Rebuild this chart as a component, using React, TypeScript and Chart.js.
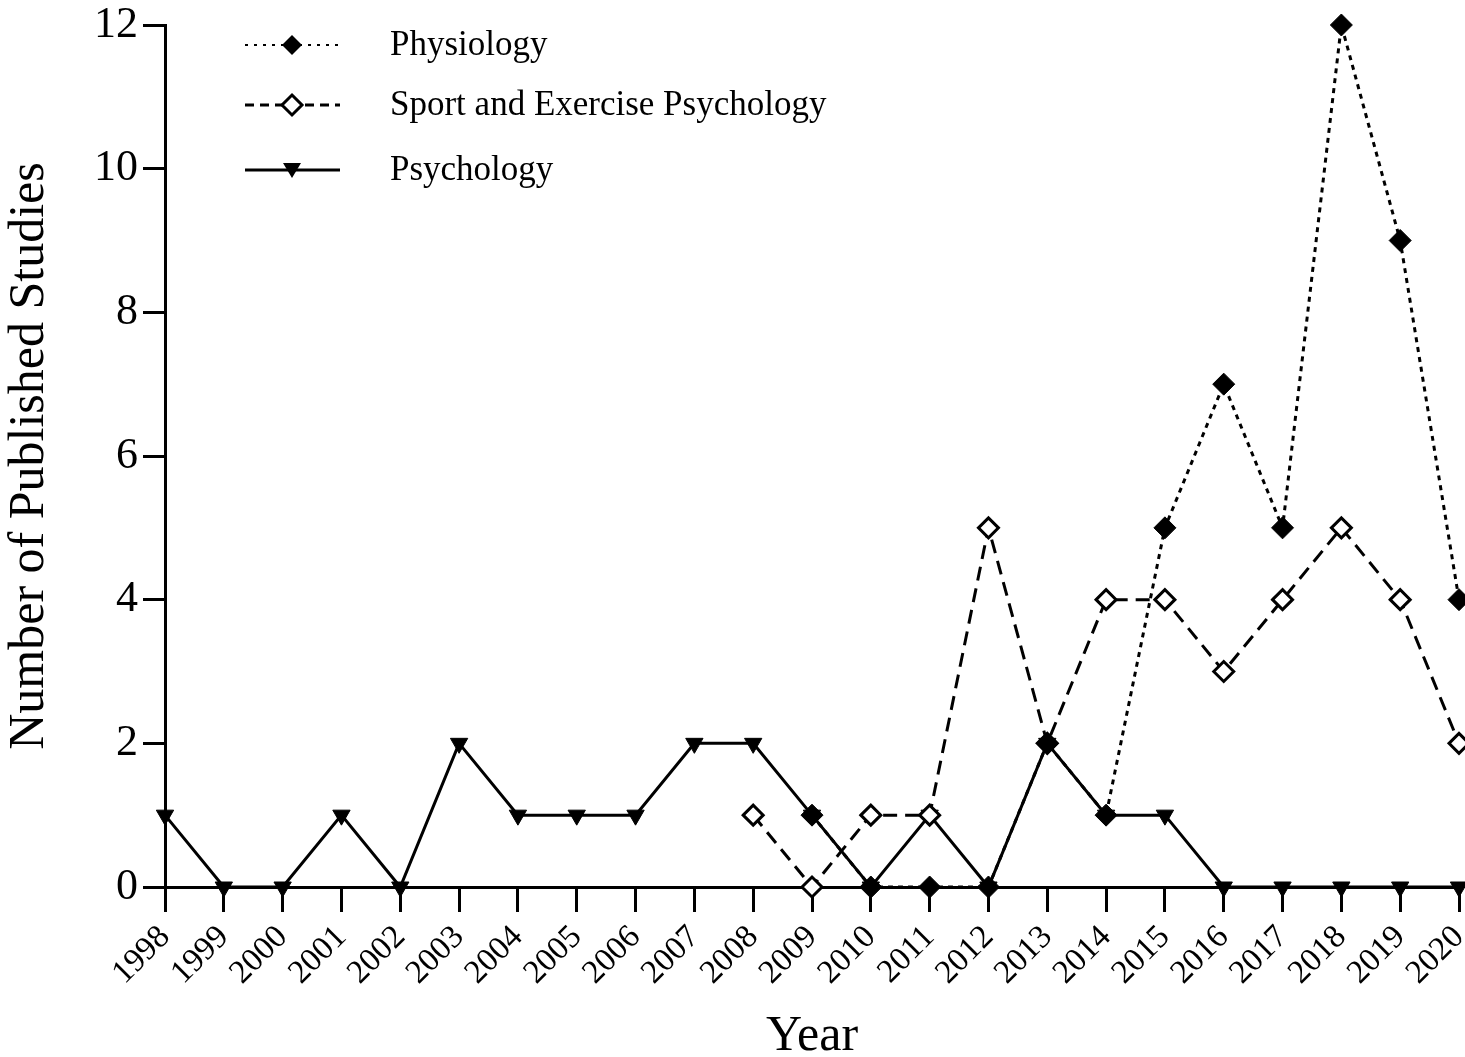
import React, { useEffect, useRef } from "react";
import { Chart, registerables } from "chart.js";

Chart.register(...registerables);

const years = ["1998","1999","2000","2001","2002","2003","2004","2005","2006","2007","2008","2009","2010","2011","2012","2013","2014","2015","2016","2017","2018","2019","2020"];
const physiology = [null,null,null,null,null,null,null,null,null,null,null,1,0,0,0,2,1,5,7,5,12,9,4];
const sportExercise = [null,null,null,null,null,null,null,null,null,null,1,0,1,1,5,2,4,4,3,4,5,4,2];
const psychology = [1,0,0,1,0,2,1,1,1,2,2,1,0,1,0,2,1,1,0,0,0,0,0];
const yTicks = [0, 2, 4, 6, 8, 10, 12];
const legendLabels = ["Physiology", "Sport and Exercise Psychology", "Psychology"];

const FONT = "'Liberation Serif', 'Times New Roman', serif";
const CANVAS_W = 1472;

const legendPlugin = {
  id: "customLegend",
  afterDraw(chart: any) {
    const ctx = chart.ctx;
    const rows = [
      { y: 45, dash: [3, 6], lw: 2, marker: "fdiamond" },
      { y: 105, dash: [9, 6], lw: 3, marker: "odiamond" },
      { y: 170, dash: [], lw: 3, marker: "tri" },
    ];
    ctx.save();
    rows.forEach((r, i) => {
      ctx.strokeStyle = "#000";
      ctx.lineWidth = r.lw;
      ctx.setLineDash(r.dash);
      ctx.beginPath();
      ctx.moveTo(245, r.y);
      ctx.lineTo(340, r.y);
      ctx.stroke();
      ctx.setLineDash([]);
      const cx = 292;
      if (r.marker === "fdiamond" || r.marker === "odiamond") {
        const s = 10;
        ctx.beginPath();
        ctx.moveTo(cx, r.y - s);
        ctx.lineTo(cx + s, r.y);
        ctx.lineTo(cx, r.y + s);
        ctx.lineTo(cx - s, r.y);
        ctx.closePath();
        if (r.marker === "fdiamond") {
          ctx.fillStyle = "#000";
          ctx.fill();
        } else {
          ctx.fillStyle = "#fff";
          ctx.fill();
          ctx.lineWidth = 3;
          ctx.stroke();
        }
      } else {
        ctx.beginPath();
        ctx.moveTo(cx - 9, r.y - 7);
        ctx.lineTo(cx + 9, r.y - 7);
        ctx.lineTo(cx, r.y + 8);
        ctx.closePath();
        ctx.fillStyle = "#000";
        ctx.fill();
      }
      ctx.fillStyle = "#000";
      ctx.font = `35px ${FONT}`;
      ctx.textBaseline = "middle";
      ctx.textAlign = "left";
      ctx.fillText(legendLabels[i], 390, r.y + 1);
    });
    ctx.restore();
  },
};

export default function App() {
  const ref = useRef<HTMLCanvasElement>(null);
  useEffect(() => {
    if (!ref.current) return;
    const chart = new Chart(ref.current, {
      type: "line",
      data: {
        labels: years,
        datasets: [
          {
            label: "Physiology",
            data: physiology,
            borderColor: "#000",
            borderWidth: 3,
            borderDash: [5, 5],
            pointStyle: "rectRot",
            pointRadius: 11,
            pointBackgroundColor: "#000",
            pointBorderColor: "#000",
            pointBorderWidth: 1,
            clip: false,
            tension: 0,
          },
          {
            label: "Sport and Exercise Psychology",
            data: sportExercise,
            borderColor: "#000",
            borderWidth: 3,
            borderDash: [14, 8],
            pointStyle: "rectRot",
            pointRadius: 10,
            pointBackgroundColor: "#fff",
            pointBorderColor: "#000",
            pointBorderWidth: 3,
            clip: false,
            tension: 0,
          },
          {
            label: "Psychology",
            data: psychology,
            borderColor: "#000",
            borderWidth: 3,
            pointStyle: "triangle",
            rotation: 180,
            pointRadius: 10,
            pointBackgroundColor: "#000",
            pointBorderColor: "#000",
            pointBorderWidth: 1,
            clip: false,
            tension: 0,
          },
        ] as any,
      },
      options: {
        animation: false,
        responsive: false,
        maintainAspectRatio: false,
        layout: { padding: { top: 25, right: 0, left: 0, bottom: 0 } },
        plugins: { legend: { display: false }, tooltip: { enabled: false } },
        scales: {
          x: {
            offset: false,
            border: { display: true, color: "#000", width: 3 },
            grid: { drawOnChartArea: false, tickLength: 25, color: "#000", lineWidth: 3 },
            ticks: {
              color: "#000",
              font: { family: FONT, size: 33 },
              maxRotation: 45,
              minRotation: 45,
              autoSkip: false,
              padding: 6,
            },
            title: {
              display: true,
              text: "Year",
              color: "#000",
              font: { family: FONT, size: 50 },
              padding: { top: 0, bottom: -10 },
            },
            afterFit: (s: any) => { s.height = 170; s.paddingLeft = 0; s.paddingRight = 0; },
          },
          y: {
            min: 0,
            max: 12,
            afterBuildTicks: (s: any) => { s.ticks = yTicks.map((v) => ({ value: v })); },
            border: { display: true, color: "#000", width: 3 },
            grid: { drawOnChartArea: false, tickLength: 22, color: "#000", lineWidth: 3 },
            ticks: {
              color: "#000",
              font: { family: FONT, size: 44 },
              padding: 5,
            },
            title: {
              display: true,
              text: "Number of Published Studies",
              color: "#000",
              font: { family: FONT, size: 50 },
              padding: { top: 0, bottom: 6 },
            },
            afterFit: (s: any) => { s.width = 165; s.paddingTop = 0; s.paddingBottom = 0; },
          },
        },
      },
      plugins: [legendPlugin],
    });
    return () => chart.destroy();
  }, []);
  return (
    <div style={{ position: "fixed", left: 0, top: 0, width: 1465, height: 1057, background: "#fff", overflow: "hidden" }}>
      <canvas ref={ref} width={CANVAS_W} height={1057} style={{ width: CANVAS_W, height: 1057, display: "block" }} />
    </div>
  );
}
